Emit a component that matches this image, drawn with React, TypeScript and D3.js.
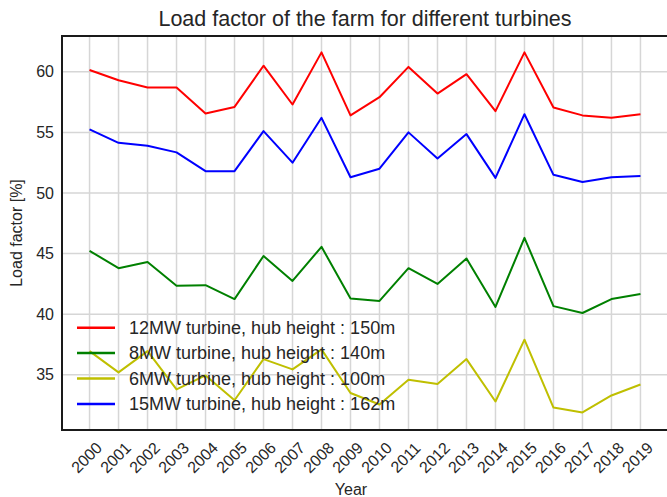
import React from "react";
import * as d3 from "d3";

const years = ["2000","2001","2002","2003","2004","2005","2006","2007","2008","2009","2010","2011","2012","2013","2014","2015","2016","2017","2018","2019"];
const red12 = [60.14,59.3,58.7,58.7,56.55,57.1,60.5,57.3,61.6,56.4,57.9,60.4,58.2,59.8,56.75,61.6,57.05,56.4,56.2,56.5];
const green8 = [45.23,43.8,44.3,42.35,42.4,41.25,44.8,42.75,45.56,41.3,41.1,43.8,42.5,44.6,40.6,46.3,40.67,40.1,41.25,41.66];
const yellow6 = [36.96,35.2,36.96,33.8,34.95,32.9,36.3,35.45,37.1,33.5,32.55,34.6,34.25,36.3,32.8,37.9,32.3,31.9,33.3,34.2];
const blue15 = [55.25,54.14,53.9,53.35,51.8,51.8,55.1,52.5,56.2,51.3,52.0,55.0,52.85,54.86,51.25,56.5,51.5,50.9,51.3,51.4];
const yTicks = [35,40,45,50,55,60];

const series = [
  { label: "12MW turbine, hub height : 150m", values: red12, color: "#ff0000" },
  { label: "8MW turbine, hub height : 140m", values: green8, color: "#008000" },
  { label: "6MW turbine, hub height : 100m", values: yellow6, color: "#bfbf00" },
  { label: "15MW turbine, hub height : 162m", values: blue15, color: "#0000ff" },
];

export default function App() {
  const W = 667, H = 497;
  const left = 62, right = 668, top = 36, bottom = 430;
  const x = d3.scaleLinear().domain([-0.95, years.length - 1 + 0.95]).range([left, right]);
  const y = d3.scaleLinear().domain([30.45, 62.95]).range([bottom, top]);
  const line = d3.line<number>().x((_, i) => x(i)).y(d => y(d));
  const font = "'Liberation Sans', Arial, sans-serif";
  const textColor = "#262626";
  return (
    <svg width={W} height={H} style={{ position: "absolute", left: 0, top: 0, background: "#fff" }} fontFamily={font}>
      <rect x={0} y={0} width={W} height={H} fill="#fff" />
      {years.map((_, i) => (
        <line key={"gx" + i} x1={x(i)} x2={x(i)} y1={top} y2={bottom} stroke="#d6d6d6" strokeWidth={1.5} />
      ))}
      {yTicks.map(t => (
        <line key={"gy" + t} x1={left} x2={right} y1={y(t)} y2={y(t)} stroke="#d6d6d6" strokeWidth={1.5} />
      ))}
      {series.map(s => (
        <path key={s.label} d={line(s.values) || ""} fill="none" stroke={s.color} strokeWidth={2} strokeLinejoin="round" />
      ))}
      <rect x={left} y={top} width={right - left} height={bottom - top} fill="none" stroke="#1a1a1a" strokeWidth={2} />
      {yTicks.map(t => (
        <text key={"ty" + t} x={left - 8} y={y(t)} dy="0.35em" textAnchor="end" fontSize={16} fill={textColor}>{t}</text>
      ))}
      {years.map((yr, i) => (
        <text key={"tx" + yr} transform={`translate(${x(i) - 3},${457.5}) rotate(-45)`} textAnchor="middle" dy="0.35em" fontSize={16} fill={textColor}>{yr}</text>
      ))}
      <text x={(left + right) / 2} y={25.5} textAnchor="middle" fontSize={21.5} fill={textColor}>Load factor of the farm for different turbines</text>
      <text x={351} y={495} textAnchor="middle" fontSize={16} fill={textColor}>Year</text>
      <text transform={`translate(16,${(top + bottom) / 2}) rotate(-90)`} textAnchor="middle" dy="0.35em" fontSize={16} fill={textColor}>Load factor [%]</text>
      {series.map((s, i) => (
        <g key={"lg" + i} transform={`translate(0,${327.7 + i * 25.4})`}>
          <line x1={77} x2={115} y1={0} y2={0} stroke={s.color} strokeWidth={2.5} />
          <text x={129} y={0} dy="0.35em" fontSize={18} fill={textColor}>{s.label}</text>
        </g>
      ))}
    </svg>
  );
}
